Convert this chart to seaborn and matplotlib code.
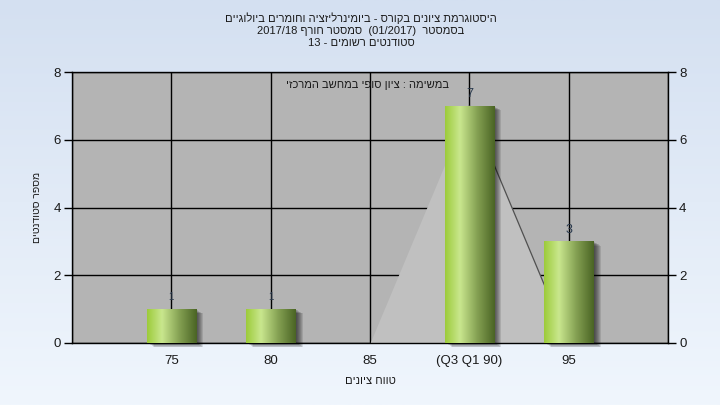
import numpy as np
import pandas as pd
import matplotlib
matplotlib.use('Agg')
import matplotlib.pyplot as plt
import seaborn as sns
from matplotlib.colors import LinearSegmentedColormap
from matplotlib.patches import Rectangle
import matplotlib.transforms as mtrans

# ---- data ----
categories = ['75', '80', '85', '(Q3 Q1 90)', '95']
counts = [1, 1, 0, 7, 3]
range_area = [0, 0, 0, 7, 0]
y_ticks = [0, 2, 4, 6, 8]


def rtl(s):
    return s[::-1]


title_lines = [
    rtl('היסטוגרמת ציונים בקורס - ביומינרליזציה וחומרים ביולוגיים'),
    '2017/18 ' + rtl('סמסטר חורף') + '  (01/2017)  ' + rtl('בסמסטר'),
    '13 - ' + rtl('סטודנטים רשומים'),
]
note_text = rtl('במשימה : ציון סופי במחשב המרכזי')
x_label = rtl('טווח ציונים')
y_label = rtl('מספר סטודנטים')

sns.set_theme(style='white')
plt.rcParams['font.family'] = ['Liberation Sans', 'DejaVu Sans']

fig = plt.figure(figsize=(7.2, 4.05), dpi=100)

# background gradient
bg = fig.add_axes([0, 0, 1, 1], zorder=-10)
grad = np.linspace(0, 1, 256).reshape(-1, 1)
cmap_bg = LinearSegmentedColormap.from_list('bg', ['#d4e0f1', '#f0f6fd'])
bg.imshow(grad, aspect='auto', cmap=cmap_bg, extent=[0, 1, 0, 1], origin='upper')
bg.set_axis_off()

ax = fig.add_axes([0.1, 0.1531, 0.8278, 0.6691])
ax.set_facecolor('#b4b4b4')

df = pd.DataFrame({'grade': categories, 'count': counts})
sns.barplot(data=df, x='grade', y='count', width=0.5, ax=ax,
            color='#a0c850', zorder=3, linewidth=0)

# area (Q1-Q3 region)
xs = np.arange(len(categories))
ax.fill_between(xs, range_area, color='#c0c0c0', lw=0, zorder=2)
ax.plot(xs[3:5], range_area[3:5], color='#505050', lw=0.9, zorder=2.1)

# gradient bars with shadow
bar_cmap = LinearSegmentedColormap.from_list(
    'bar', [(0, '#9ccb3a'), (0.3, '#c9e78e'), (0.65, '#84a052'), (1.0, '#4a6424')])
hgrad = np.linspace(0, 1, 256).reshape(1, -1)
bars = list(ax.patches)
for p in bars:
    x0, y0, w, h = p.get_x(), p.get_y(), p.get_width(), p.get_height()
    if h <= 0:
        p.set_visible(False)
        continue
    for k in range(1, 8):
        off = mtrans.ScaledTranslation(k * 1.0 / 100, -k * 0.6 / 100, fig.dpi_scale_trans)
        r = Rectangle((x0, y0), w, h, transform=ax.transData + off,
                      color='black', alpha=0.11, lw=0, zorder=2.9, clip_on=False)
        ax.add_patch(r)
    im = ax.imshow(hgrad, extent=[x0, x0 + w, y0, y0 + h], aspect='auto',
                   cmap=bar_cmap, zorder=3.5, interpolation='bilinear')
    im.set_clip_path(p)
    p.set_facecolor('none')

# value labels
for i, v in enumerate(counts):
    if v > 0:
        ax.annotate(str(v), (i, v), xytext=(0, 8.5), textcoords='offset points',
                    ha='center', va='center', fontsize=9 if v > 1 else 7,
                    color='#2a3a4e', zorder=5)

ax.set_xlim(-1, 5)
ax.set_ylim(0, 8)
ax.set_xticks(range(-1, 6))
ax.set_xticklabels([''] + categories + [''])
ax.set_yticks(y_ticks)
ax.set_axisbelow(True)
ax.grid(True, color='black', lw=1, zorder=0.5)
ax.set_xlabel('')
ax.set_ylabel('')
for s in ax.spines.values():
    s.set_color('black')
    s.set_linewidth(1)
ax.tick_params(axis='both', direction='out', length=6, width=1, color='black',
               labelsize=9.5, labelcolor='#1a1a1a', pad=2)
ax.tick_params(axis='x', pad=3)

ax2 = ax.twinx()
ax2.set_ylim(0, 8)
ax2.set_yticks(y_ticks)
ax2.grid(False)
for s in ax2.spines.values():
    s.set_visible(False)
ax2.tick_params(axis='y', direction='out', length=6, width=1, color='black',
                labelsize=9.5, labelcolor='#1a1a1a', pad=2)

# texts
for j, line in enumerate(title_lines):
    fig.text(361 / 720, 1 - (18 + 12.5 * j) / 405, line, ha='center', va='center',
             fontsize=8, color='#1a1a1a')
fig.text(368 / 720, 1 - 85 / 405, note_text, ha='center', va='center',
         fontsize=8, color='#1a1a1a')
fig.text(370 / 720, 1 - 381 / 405, x_label, ha='center', va='center',
         fontsize=8, color='#1a1a1a')
fig.text(37 / 720, 1 - 207 / 405, y_label, ha='center', va='center',
         rotation=90, fontsize=7.5, color='#1a1a1a')

fig.savefig('out.png', dpi=100)
